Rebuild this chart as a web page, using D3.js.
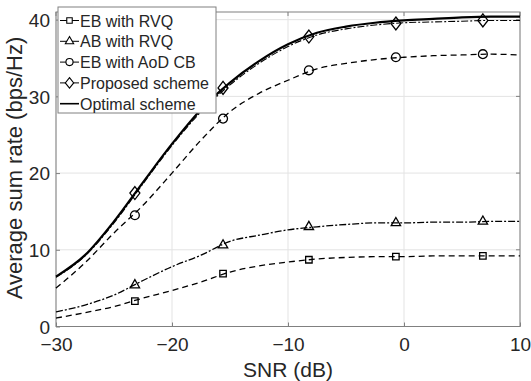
<!DOCTYPE html>
<html>
<head>
<meta charset="utf-8">
<script src="https://cdn.jsdelivr.net/npm/d3@7"></script>
<style>
  body { margin: 0; background: #fff; }
  svg text { font-family: "Liberation Sans", Arial, sans-serif; fill: #262626; }
</style>
</head>
<body>
<svg id="chart"></svg>
<script>
// SNR grid of the curves
const snr = [-30, -27.5, -25, -22.5, -20, -17.5, -15, -12.5, -10, -7.5, -5, -2.5, 0, 2.5, 5, 7.5, 10];
const optimal  = [6.5, 9.3, 13.7, 18.8, 23.8, 28.3, 31.8, 34.6, 36.8, 38.3, 39.1, 39.6, 39.9, 40.1, 40.3, 40.4, 40.4];
const proposed = [6.4, 9.2, 13.5, 18.6, 23.6, 28.0, 31.5, 34.3, 36.5, 38.0, 38.8, 39.3, 39.6, 39.7, 39.8, 39.9, 39.9];
const aodCB    = [5.0, 8.3, 12.2, 15.8, 20.0, 24.3, 28.0, 30.4, 32.1, 33.6, 34.3, 34.8, 35.1, 35.3, 35.4, 35.5, 35.4];
const abRVQ    = [1.9, 2.8, 4.1, 6.0, 7.8, 9.3, 11.1, 11.9, 12.6, 13.0, 13.3, 13.5, 13.5, 13.6, 13.6, 13.7, 13.7];
const ebRVQ    = [1.1, 1.8, 2.6, 3.7, 4.7, 5.8, 7.1, 7.9, 8.4, 8.8, 9.0, 9.1, 9.1, 9.2, 9.2, 9.2, 9.2];

// marker positions
const markSnr      = [-23.2, -15.6, -8.2, -0.7, 6.8];
const markProposed = [17.4, 31.1, 37.8, 39.5, 39.9];
const markAod      = [14.5, 27.1, 33.4, 35.1, 35.5];
const markAb       = [5.4, 10.6, 13.0, 13.5, 13.7];
const markEb       = [3.3, 6.9, 8.7, 9.1, 9.2];

const xTicks = [-30, -20, -10, 0, 10];
const yTicks = [0, 10, 20, 30, 40];
const legendLabels = ["EB with RVQ", "AB with RVQ", "EB with AoD CB", "Proposed scheme", "Optimal scheme"];

const W = 531, H = 381;
const m = {left: 56, right: 11, top: 12, bottom: 55};

const svg = d3.select("#chart").attr("width", W).attr("height", H);

const x = d3.scaleLinear().domain([-30, 10]).range([m.left, W - m.right]);
const y = d3.scaleLinear().domain([0, 41]).range([H - m.bottom + 0.5, m.top]);

// grid
const grid = svg.append("g").attr("stroke", "#e3e3e3").attr("stroke-width", 1);
xTicks.forEach(t => grid.append("line")
    .attr("x1", x(t)).attr("x2", x(t)).attr("y1", y(0)).attr("y2", y(41)));
yTicks.forEach(t => grid.append("line")
    .attr("x1", x(-30)).attr("x2", x(10)).attr("y1", y(t)).attr("y2", y(t)));

// axes
const xAxis = svg.append("g")
    .attr("transform", `translate(0,${y(0)})`)
    .call(d3.axisBottom(x).tickValues(xTicks).tickSizeInner(-4).tickSizeOuter(0).tickPadding(11));
const yAxis = svg.append("g")
    .attr("transform", `translate(${x(-30)},0)`)
    .call(d3.axisLeft(y).tickValues(yTicks).tickSizeInner(-4).tickSizeOuter(0).tickPadding(6));
[xAxis, yAxis].forEach(a => {
  a.select(".domain").remove();
  a.selectAll("line").attr("stroke", "#808080");
  a.selectAll("text").attr("font-size", 19).attr("fill", "#262626")
   .attr("font-family", "Liberation Sans, Arial, sans-serif");
});
yAxis.selectAll("text").attr("dy", "0.36em");
// frame
svg.append("rect")
    .attr("x", x(-30)).attr("y", y(41))
    .attr("width", x(10) - x(-30)).attr("height", y(0) - y(41))
    .attr("fill", "none").attr("stroke", "#808080").attr("stroke-width", 1);
// right / top ticks
const ticksG = svg.append("g").attr("stroke", "#808080");
yTicks.forEach(t => ticksG.append("line")
    .attr("x1", x(10)).attr("x2", x(10) - 4).attr("y1", y(t)).attr("y2", y(t)));
xTicks.forEach(t => ticksG.append("line")
    .attr("x1", x(t)).attr("x2", x(t)).attr("y1", y(41)).attr("y2", y(41) + 4));

// axis titles
svg.append("text").attr("x", (x(-30) + x(10)) / 2).attr("y", 377)
    .attr("text-anchor", "middle").attr("font-size", 21).text("SNR (dB)");
svg.append("text")
    .attr("transform", `translate(22,168) rotate(-90)`)
    .attr("text-anchor", "middle").attr("font-size", 22).text("Average sum rate (bps/Hz)");

const line = d3.line().x((d, i) => x(snr[i])).y(d => y(d)).curve(d3.curveMonotoneX);
const plot = svg.append("g");

// MATLAB-like diamond: wider than d3's
const diamond = (hw, hh) => `M0,${-hh}L${hw},0L0,${hh}L${-hw},0Z`;

const symbols = {
  square: d3.symbol().type(d3.symbolSquare).size(42)(),
  triangle: d3.symbol().type(d3.symbolTriangle).size(38)(),
  circle: d3.symbol().type(d3.symbolCircle).size(62)(),
  diamond: diamond(5, 6.5)
};
const legendSymbols = {
  square: d3.symbol().type(d3.symbolSquare).size(30)(),
  triangle: d3.symbol().type(d3.symbolTriangle).size(30)(),
  circle: d3.symbol().type(d3.symbolCircle).size(40)(),
  diamond: diamond(4.2, 5.2)
};

const series = [
  {vals: ebRVQ, marks: markEb, dash: "6,4", w: 1.3, marker: "square"},
  {vals: abRVQ, marks: markAb, dash: "7,2,2,2", w: 1.3, marker: "triangle"},
  {vals: aodCB, marks: markAod, dash: "6,4", w: 1.3, marker: "circle"},
  {vals: optimal, marks: null, dash: null, w: 2.2, marker: null},
  {vals: proposed, marks: markProposed, dash: "7,2,2,2", w: 1.1, marker: "diamond"}
];

series.forEach(s => {
  plot.append("path").datum(s.vals)
      .attr("d", line)
      .attr("fill", "none").attr("stroke", "#000")
      .attr("stroke-width", s.w)
      .attr("stroke-dasharray", s.dash);
  if (s.marks) {
    plot.selectAll(null).data(s.marks).enter().append("path")
        .attr("d", symbols[s.marker])
        .attr("transform", (d, i) => `translate(${x(markSnr[i])},${y(d)})`)
        .attr("fill", "none").attr("stroke", "#000").attr("stroke-width", 1.3);
  }
});

// legend
const lg = svg.append("g").attr("transform", "translate(58,7)");
lg.append("rect").attr("width", 158).attr("height", 106)
    .attr("fill", "#fff").attr("stroke", "#808080").attr("stroke-width", 1);
const legendStyle = [
  {w: 1, marker: "square"},
  {w: 1, marker: "triangle"},
  {w: 1, marker: "circle"},
  {w: 1, marker: "diamond"},
  {w: 1.6, marker: null}
];
legendLabels.forEach((lab, i) => {
  const yy = 13.5 + i * 20.8;
  const st = legendStyle[i];
  lg.append("line").attr("x1", 2).attr("x2", 21).attr("y1", yy).attr("y2", yy)
      .attr("stroke", "#000").attr("stroke-width", st.w);
  if (st.marker) {
    lg.append("path").attr("d", legendSymbols[st.marker])
        .attr("transform", `translate(11.5,${yy})`)
        .attr("fill", "#fff").attr("stroke", "#000").attr("stroke-width", 1.1);
  }
  lg.append("text").attr("x", 22).attr("y", yy + 6)
      .attr("font-size", 16).attr("fill", "#000").text(lab);
});
</script>
</body>
</html>
